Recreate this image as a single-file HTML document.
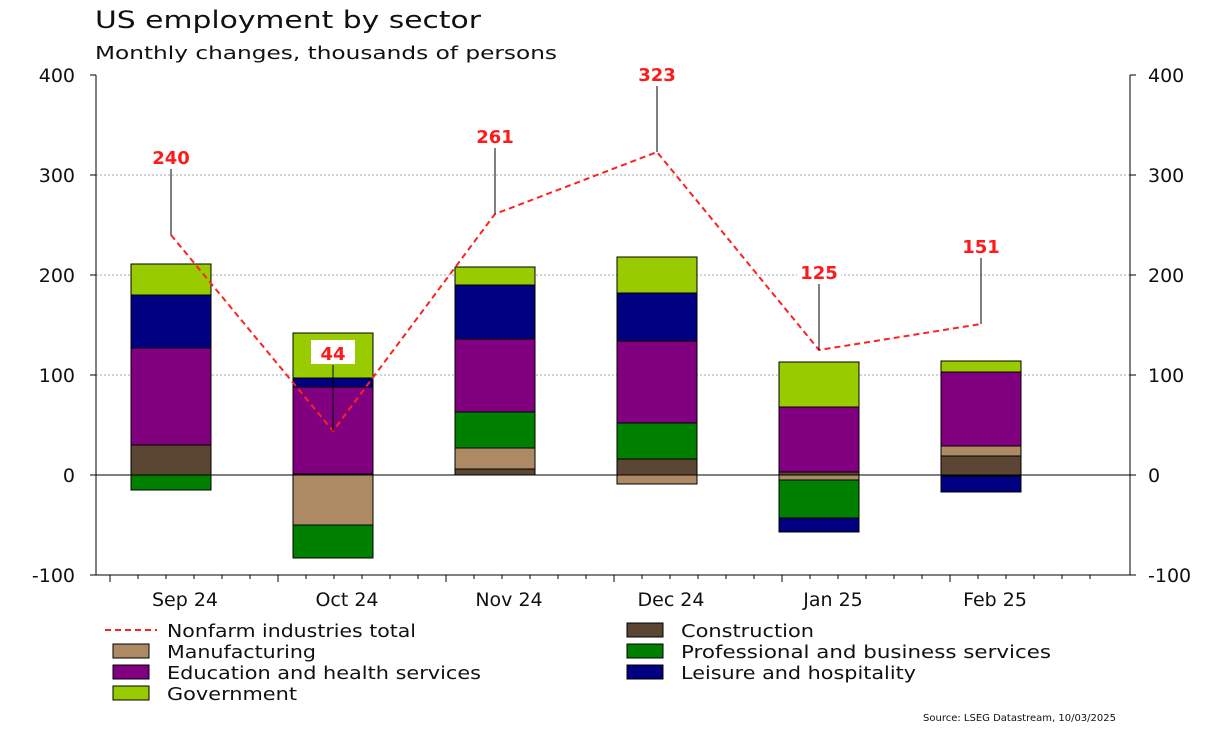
<!DOCTYPE html>
<html><head><meta charset="utf-8"><style>
body{margin:0;background:#fff}
svg text{font-family:"DejaVu Sans","Liberation Sans",sans-serif}
</style></head><body>
<svg id="c" width="1222" height="728" xmlns="http://www.w3.org/2000/svg">
<text x="95" y="28" font-size="24" fill="#111" textLength="386" lengthAdjust="spacingAndGlyphs">US employment by sector</text>
<text x="95" y="59" font-size="18" fill="#111" textLength="462" lengthAdjust="spacingAndGlyphs">Monthly changes, thousands of persons</text>
<g id="grid"></g><g id="bars"></g><g id="line"></g><g id="axes"></g><g id="legend"></g>
<text x="1116" y="721" font-size="10" text-anchor="end" fill="#111">Source: LSEG Datastream, 10/03/2025</text>
</svg>
<script>
const months=["Sep 24","Oct 24","Nov 24","Dec 24","Jan 25","Feb 25"];
const construction=[30,1,6,16,3,19];
const manufacturing=[0,-50,21,-9,-5,10];
const professional=[-15,-33,36,36,-38,-1];
const education=[97,87,73,82,65,74];
const leisure=[53,9,54,48,-14,-16];
const government=[31,45,18,36,45,11];
const total=[240,44,261,323,125,151];
const yTicks=[-100,0,100,200,300,400];
const series=[["construction",construction,"#5a4632"],["manufacturing",manufacturing,"#ad8a63"],["professional",professional,"#008000"],["education",education,"#800080"],["leisure",leisure,"#000080"],["government",government,"#99cc00"]];
const NS="http://www.w3.org/2000/svg";
const L=96,R=1130,T=75,B=575;
const y=v=>B-(v+100)/500*(B-T);
const x=i=>171+i*162;
function mk(p,t,a){const e=document.createElementNS(NS,t);for(const k in a)e.setAttribute(k,a[k]);document.getElementById(p).appendChild(e);return e;}
yTicks.forEach(v=>{
 if(v>0&&v<400){const g=mk("grid","line",{x1:L,x2:R,y1:y(v),y2:y(v),stroke:"#aaa","stroke-dasharray":"2,2"});
 
 }
 const t1=mk("axes","text",{x:L-21,y:y(v)+7,"font-size":19,"text-anchor":"end",fill:"#111"});t1.textContent=v;
 
 
 const t2=mk("axes","text",{x:R+18,y:y(v)+7,"font-size":19,fill:"#111"});t2.textContent=v;
 
 
 mk("axes","line",{x1:L-6,x2:L,y1:y(v),y2:y(v),stroke:"#000"});
 mk("axes","line",{x1:R,x2:R+6,y1:y(v),y2:y(v),stroke:"#000"});
});
months.forEach((m,i)=>{
 let pos=0,neg=0;
 series.forEach(([n,arr,c])=>{const v=arr[i];if(!v)return;let a,b;
  if(v>0){a=pos;b=pos+v;pos=b;}else{a=neg;b=neg+v;neg=b;}
  const r=mk("bars","rect",{x:x(i)-40,y:y(Math.max(a,b)),width:80,height:Math.abs(y(a)-y(b)),fill:c,stroke:"#000","stroke-width":1});
  
  });
 const t=mk("axes","text",{x:x(i)+14,y:606,"font-size":19,"text-anchor":"middle",fill:"#111"});t.textContent=m;
 
 
});
mk("axes","line",{x1:L,x2:R,y1:y(0),y2:y(0),stroke:"#000"});
mk("axes","line",{x1:L,x2:L,y1:T,y2:B,stroke:"#000"});
mk("axes","line",{x1:R,x2:R,y1:T,y2:B,stroke:"#000"});
mk("axes","line",{x1:L,x2:R,y1:B,y2:B,stroke:"#000"});
for(let k=0;k<36;k++){const xx=L+14+k*28;mk("axes","line",{x1:xx,x2:xx,y1:B,y2:B+(k%6==0?7:4),stroke:"#000"});}
const pl=mk("line","polyline",{points:total.map((v,i)=>x(i)+","+y(v)).join(" "),fill:"none",stroke:"#ff2020","stroke-width":2,"stroke-dasharray":"6,4"});


total.forEach((v,i)=>{const ly=y(v)-78;
 mk("line","line",{x1:x(i),x2:x(i),y1:y(v),y2:ly+12,stroke:"#000"});
 mk("line","rect",{x:x(i)-22,y:ly-13,width:44,height:24,fill:"#fff"});
 const t=mk("line","text",{x:x(i),y:ly+7,"font-size":18,"font-weight":"bold","text-anchor":"middle",fill:"#ff1a1a"});t.textContent=v;
 
 });
const leg=[["line","Nonfarm industries total",105,630,"#ff2020",249],["box","Construction",619,630,"#5a4632",133],["box","Manufacturing",105,651,"#ad8a63",149],["box","Professional and business services",619,651,"#008000",370],["box","Education and health services",105,672,"#800080",314],["box","Leisure and hospitality",619,672,"#000080",235],["box","Government",105,693,"#99cc00",130]];
leg.forEach(([k,l,lx,ly,c,w])=>{
 if(k=="line")mk("legend","line",{x1:lx,x2:lx+52,y1:ly,y2:ly,stroke:c,"stroke-width":2,"stroke-dasharray":"6,4"});
 else mk("legend","rect",{x:lx+8,y:ly-7,width:36,height:14,fill:c,stroke:"#000"});
 const t=mk("legend","text",{x:lx+62,y:ly+7,"font-size":18,fill:"#111",textLength:w,lengthAdjust:"spacingAndGlyphs"});t.textContent=l;
 
 });
</script>
</body></html>
